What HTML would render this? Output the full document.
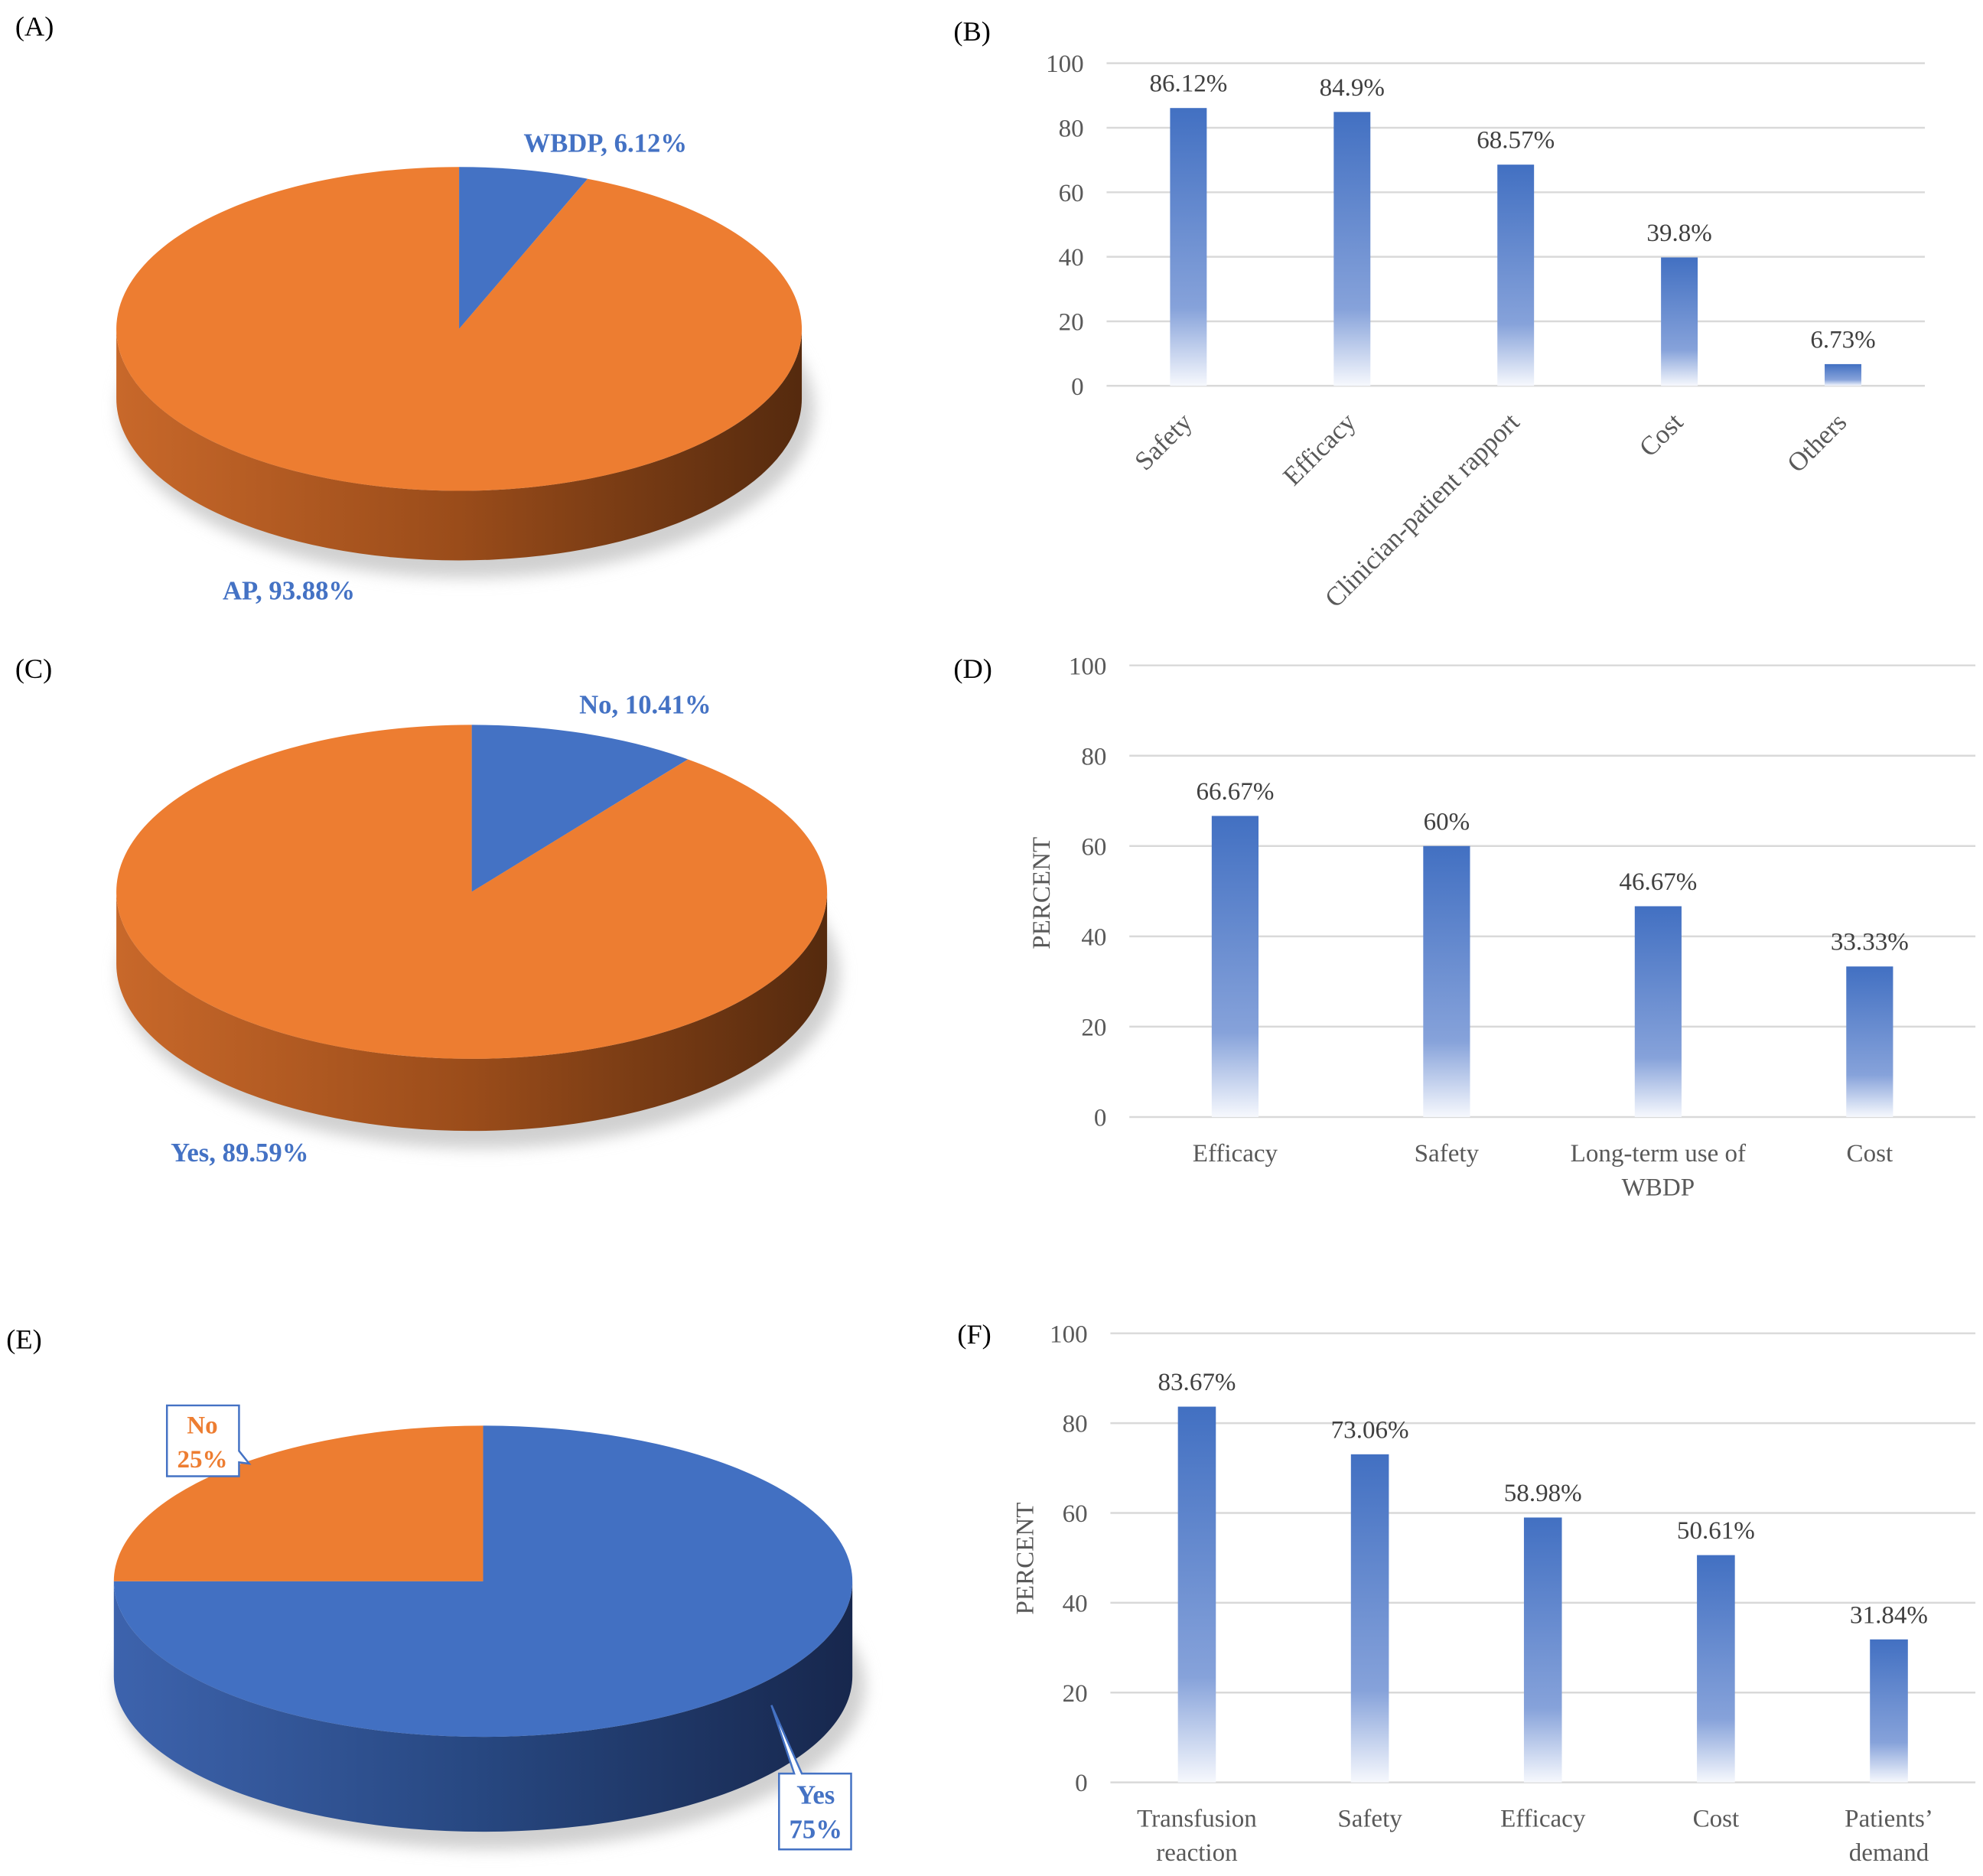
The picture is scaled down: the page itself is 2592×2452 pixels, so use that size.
<!DOCTYPE html>
<html><head><meta charset="utf-8"><style>
html,body{margin:0;padding:0;background:#fff}
svg{display:block}
svg text{font-family:"Liberation Serif","DejaVu Serif",serif}
</style></head><body>
<svg id="fig" width="2592" height="2452" viewBox="0 0 1568 1483" preserveAspectRatio="none" xmlns="http://www.w3.org/2000/svg" font-family="Liberation Serif, DejaVu Serif, serif">
<defs>
<linearGradient id="barG" x1="0" y1="0" x2="0" y2="1">
<stop offset="0" stop-color="#4270c2"/><stop offset="0.72" stop-color="#86a2da"/><stop offset="1" stop-color="#f6f8fd"/>
</linearGradient>
<linearGradient id="sideO" x1="0" y1="0" x2="1" y2="0">
<stop offset="0" stop-color="#c8682a"/><stop offset="0.5" stop-color="#9a4c1a"/><stop offset="1" stop-color="#552a0e"/>
</linearGradient>
<linearGradient id="sideB" x1="0" y1="0" x2="1" y2="0">
<stop offset="0" stop-color="#3d63ad"/><stop offset="0.5" stop-color="#274780"/><stop offset="1" stop-color="#17274d"/>
</linearGradient>
<filter id="blur"><feGaussianBlur stdDeviation="6"/></filter>
</defs>
<g id="root"></g>
<text x="12" y="28" font-size="22">(A)</text>
<text x="754" y="32" font-size="22">(B)</text>
<text x="12" y="536" font-size="22">(C)</text>
<text x="754" y="536" font-size="22">(D)</text>
<text x="5" y="1066" font-size="22">(E)</text>
<text x="757" y="1062" font-size="22">(F)</text>
</svg>
<script>
const NS="http://www.w3.org/2000/svg";
const FONT="Liberation Serif, DejaVu Serif, serif";
const root=document.getElementById('root');
function mk(tag,attrs,parent){const e=document.createElementNS(NS,tag);for(const k in attrs)e.setAttribute(k,attrs[k]);if(tag==='text')e.setAttribute('font-family',FONT);(parent||root).appendChild(e);return e;}

// ---------- Pie data ----------
const pieALabels=["WBDP","AP"];
const pieAValues=[6.12,93.88];
const pieCLabels=["No","Yes"];
const pieCValues=[10.41,89.59];
const pieELabels=["Yes","No"];
const pieEValues=[75,25];

function pie(name,cx,cy,rx,ry,d,values,colors,sideGrad,startFrac){
  const g=mk('g',{});
  
  
  const sh=mk('ellipse',{cx:cx+6,cy:cy+d+8,rx:rx+4,ry:ry+6,fill:'#d0d0d0',filter:'url(#blur)'},g);
  
  
  const side=mk('path',{d:`M${cx-rx},${cy} A${rx},${ry} 0 0 0 ${cx+rx},${cy} L${cx+rx},${cy+d} A${rx},${ry} 0 0 1 ${cx-rx},${cy+d} Z`,fill:`url(#${sideGrad})`},g);
  
  
  const tot=values.reduce((a,b)=>a+b,0);
  let a0=startFrac*2*Math.PI;
  values.forEach((v,i)=>{
    const a1=a0+v/tot*2*Math.PI;
    const x0=cx+rx*Math.sin(a0),y0=cy-ry*Math.cos(a0);
    const x1=cx+rx*Math.sin(a1),y1=cy-ry*Math.cos(a1);
    const large=(a1-a0)>Math.PI?1:0;
    const p=mk('path',{d:`M${cx},${cy} L${x0},${y0} A${rx},${ry} 0 ${large} 1 ${x1},${y1} Z`,fill:colors[i]},g);
    
    
    a0=a1;
  });
}
pie('pie-a',363,260,271,128,55,pieAValues,['#4472c4','#ed7d31'],'sideO',0);
pie('pie-c',373,705,281,132,57,pieCValues,['#4472c4','#ed7d31'],'sideO',0);
pie('pie-e',382,1250,292,123,75,pieEValues,['#4270c2','#ed7d31'],'sideB',0);

function txt(x,y,s,attrs,name){const t=mk('text',Object.assign({x:x,y:y},attrs));t.textContent=s;return t;}
const lb={'font-size':21,'font-weight':'bold',fill:'#4472c4'};
txt(414,120,pieALabels[0]+", "+pieAValues[0]+"%",lb,'label-wbdp');
txt(176,474,pieALabels[1]+", "+pieAValues[1]+"%",lb,'label-ap');
txt(458,564,pieCLabels[0]+", "+pieCValues[0]+"%",lb,'label-no-c');
txt(135,918,pieCLabels[1]+", "+pieCValues[1]+"%",lb,'label-yes-c');
// callouts E
let c1=mk('path',{d:'M132,1111 L189,1111 L189,1147 L197,1157 L189,1156 L189,1167 L132,1167 Z',fill:'#fff',stroke:'#4472c4','stroke-width':1.5});

txt(160,1133,pieELabels[1],{'font-size':20,'font-weight':'bold',fill:'#ed7d31','text-anchor':'middle'},'label-no-e');
txt(160,1160,pieEValues[1]+"%",{'font-size':20,'font-weight':'bold',fill:'#ed7d31','text-anchor':'middle'},'label-no-e-pct');
let c2=mk('path',{d:'M616,1402 L628,1402 L610,1348 L634,1402 L673,1402 L673,1462 L616,1462 Z',fill:'#fff',stroke:'#4472c4','stroke-width':1.5});

txt(645,1426,pieELabels[0],{'font-size':21,'font-weight':'bold',fill:'#4472c4','text-anchor':'middle'},'label-yes-e');
txt(645,1453,pieEValues[0]+"%",{'font-size':21,'font-weight':'bold',fill:'#4472c4','text-anchor':'middle'},'label-yes-e-pct');

// ---------- Bar data ----------
const ticks=[0,20,40,60,80,100];
const bCats=[["Safety"],["Efficacy"],["Clinician-patient rapport"],["Cost"],["Others"]];
const bVals=[86.12,84.9,68.57,39.8,6.73];
const dCats=[["Efficacy"],["Safety"],["Long-term use of","WBDP"],["Cost"]];
const dVals=[66.67,60,46.67,33.33];
const fCats=[["Transfusion","reaction"],["Safety"],["Efficacy"],["Cost"],["Patients\u2019","demand"]];
const fVals=[83.67,73.06,58.98,50.61,31.84];

function bars(name,x0,x1,yTop,yBot,cats,vals,bw,opt){
  const g=mk('g',{});
  
  
  const yS=v=>yBot-(v/100)*(yBot-yTop);
  const step=(x1-x0)/cats.length;
  const xS=i=>x0+step*(i+0.5);
  ticks.forEach(t=>{
    const l=mk('line',{x1:x0,x2:x1,y1:yS(t),y2:yS(t),stroke:'#d9d9d9','stroke-width':1.5},g);
    
    
    const tl=mk('text',{x:x0-18,y:yS(t)+7,'font-size':20,fill:'#595959','text-anchor':'end'},g);
    tl.textContent=t;
    
    
  });
  vals.forEach((v,i)=>{
    const r=mk('rect',{x:xS(i)-bw/2,y:yS(v),width:bw,height:yS(0)-yS(v),fill:'url(#barG)'},g);
    
    
    const vl=mk('text',{x:xS(i),y:yS(v)-13,'font-size':20,fill:'#404040','text-anchor':'middle'},g);
    vl.textContent=v+"%";
    
    
    if(opt.rot){
      const cl=mk('text',{x:xS(i)+4,y:yBot+30,'font-size':21,fill:'#595959','text-anchor':'end',transform:`rotate(-45 ${xS(i)+4} ${yBot+30})`},g);
      cl.textContent=cats[i].join(' ');
      
      
    } else {
      cats[i].forEach((s,j)=>{
        const cl=mk('text',{x:xS(i),y:yBot+35+j*27,'font-size':20,fill:'#595959','text-anchor':'middle'},g);
        cl.textContent=s;
        
        
      });
    }
  });
  if(opt.ytitle){
    const yt=mk('text',{x:opt.ytitle[0],y:opt.ytitle[1],'font-size':20,fill:'#595959','text-anchor':'middle',transform:`rotate(-90 ${opt.ytitle[0]} ${opt.ytitle[1]})`},g);
    yt.textContent="PERCENT";
    
    
  }
}
bars('chart-b',875,1522,50,305,bCats,bVals,29,{rot:true});
bars('chart-d',893,1562,526,883,dCats,dVals,37,{ytitle:[830,706]});
bars('chart-f',878,1562,1054,1409,fCats,fVals,30,{ytitle:[817,1232]});
</script>
</body></html>
